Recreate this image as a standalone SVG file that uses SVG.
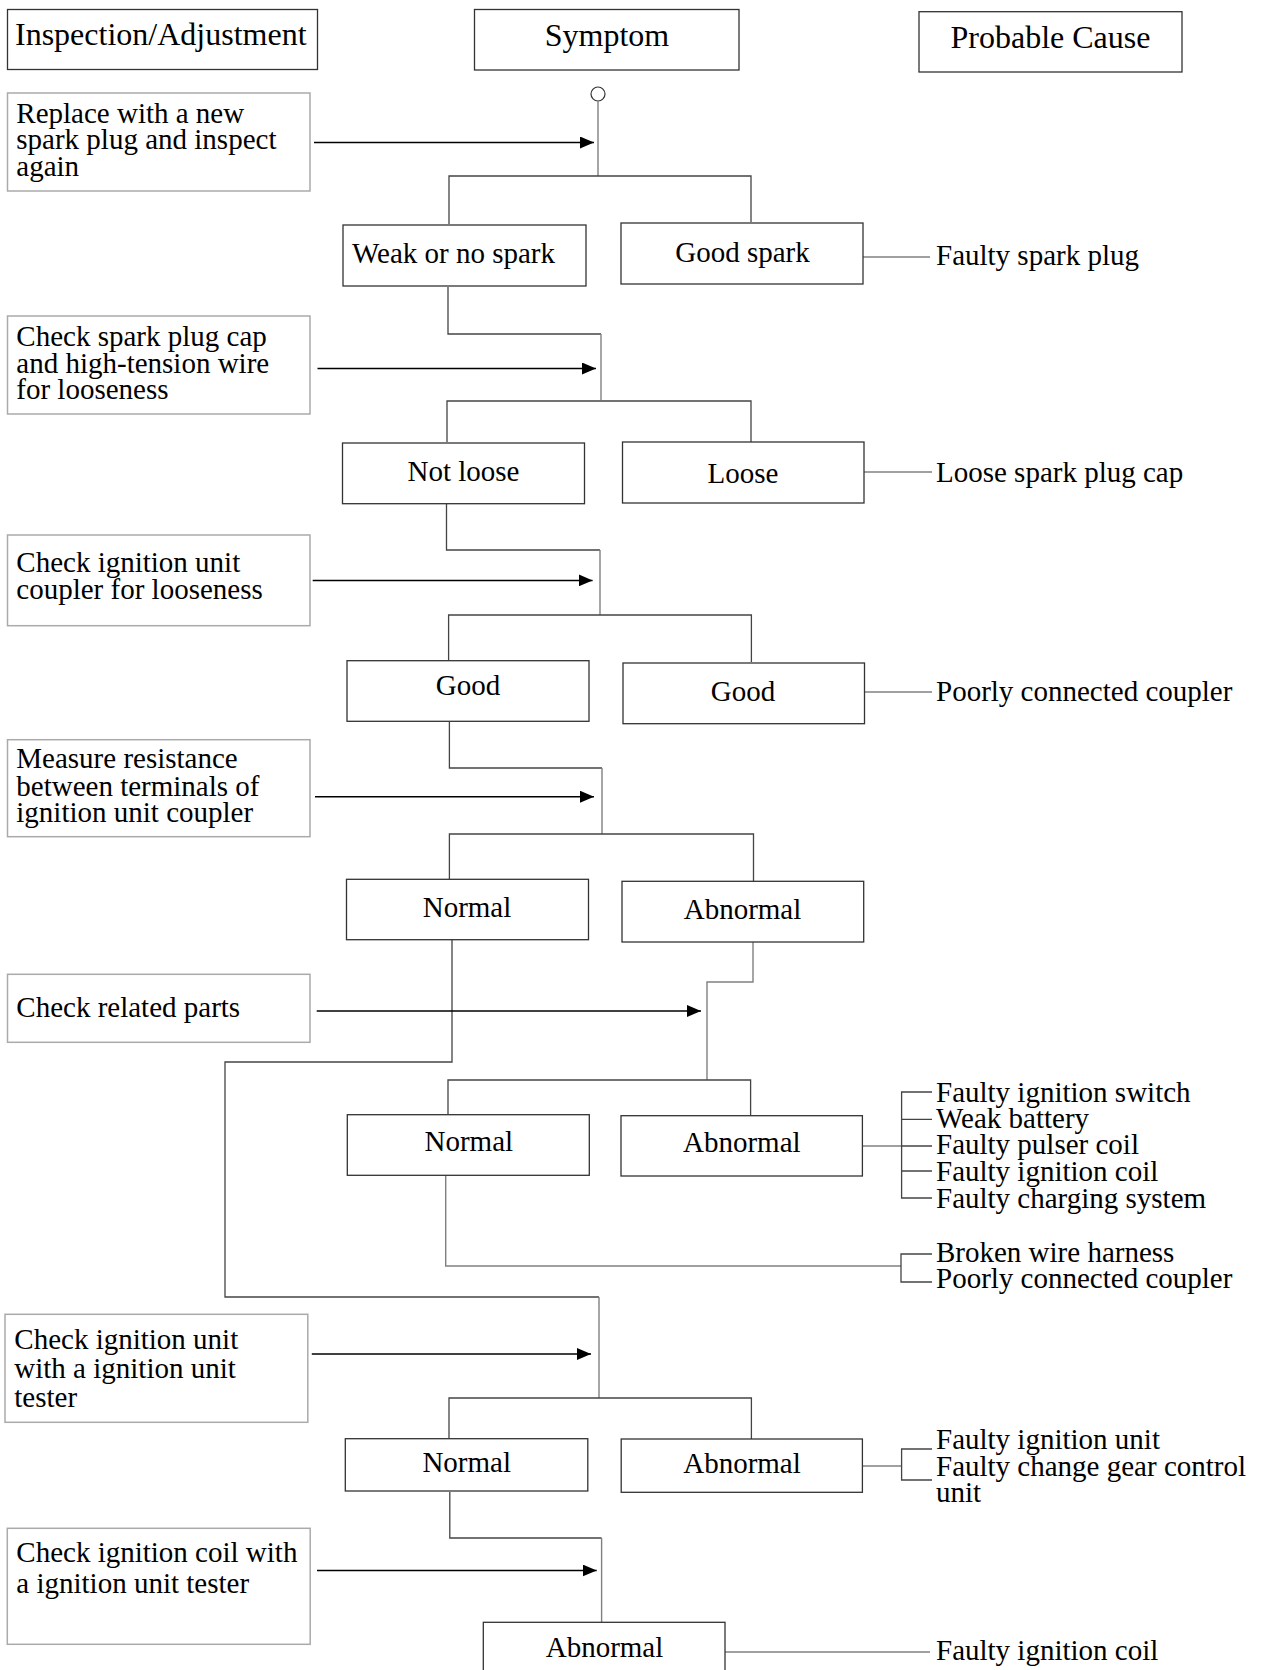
<svg xmlns="http://www.w3.org/2000/svg" width="1262" height="1670" viewBox="0 0 1262 1670">
<defs>
<style>
text{font-family:"Liberation Serif","Times New Roman",serif;font-size:29px;fill:#000}
.hd{font-size:32px}
.c{text-anchor:middle}
.hbox{fill:#fff;stroke:#333;stroke-width:1.3}
.sbox{fill:#fff;stroke:#333;stroke-width:1.3}
.ibox{fill:#fff;stroke:#aaa;stroke-width:1.5}
.ln{fill:none;stroke:#444;stroke-width:1.3}
.gl{fill:none;stroke:#808080;stroke-width:1.4}
.ar{fill:none;stroke:#000;stroke-width:1.5}
</style>
<marker id="ah" viewBox="0 0 14 12" refX="14" refY="6" markerWidth="14" markerHeight="12" markerUnits="userSpaceOnUse" orient="auto">
<path d="M0,0 L14,6 L0,12 z" fill="#000"/>
</marker>
</defs>
<rect width="1262" height="1670" fill="#fff"/>

<g id="connectors">
<circle cx="598" cy="94" r="7" fill="#fff" stroke="#333" stroke-width="1.2"/>
<path class="gl" d="M598 101 V176"/>
<path class="ln" d="M449 224 V176 H751 V222"/>
<path class="ln" d="M448 287 V334 H601"/>
<path class="gl" d="M601 334 V400"/>
<path class="ln" d="M447 442 V401 H751 V442"/>
<path class="ln" d="M446.5 504 V550 H600"/>
<path class="gl" d="M600 550 V615"/>
<path class="ln" d="M448.6 660 V615 H751.4 V662"/>
<path class="ln" d="M449.4 722 V768 H602"/>
<path class="gl" d="M602 768 V834"/>
<path class="ln" d="M449.4 879 V834 H753.5 V881"/>
<path class="ln" d="M452 940 V1062 H225 V1297 H599"/>
<path class="gl" d="M599 1297 V1398"/>
<path class="ln" d="M449 1438 V1398 H751.4 V1439"/>
<path class="gl" d="M753 942 V982 H707 V1080"/>
<path class="ln" d="M448 1114 V1080 H750.6 V1115"/>
<path class="gl" d="M862 1146 H901.6"/>
<path class="ln" d="M932 1092 H901.6 V1198 H932 M901.6 1119.3 H932 M901.6 1146 H932 M901.6 1171 H932"/>
<path class="gl" d="M445.7 1176 V1266 H901"/>
<path class="ln" d="M932 1254 H901 V1282 H932"/>
<path class="ln" d="M449.8 1492 V1538 H601.6"/>
<path class="gl" d="M601.6 1538 V1622"/>
<path class="gl" d="M862.4 1466 H901.6"/>
<path class="ln" d="M932 1449 H901.6 V1480 H932"/>
<path class="gl" d="M863 257 H930"/>
<path class="gl" d="M864 472 H932"/>
<path class="gl" d="M864.5 692 H932"/>
<path class="gl" d="M725 1652 H930"/>
<path class="ar" marker-end="url(#ah)" d="M314 142.5 H594"/>
<path class="ar" marker-end="url(#ah)" d="M317.5 368.5 H596"/>
<path class="ar" marker-end="url(#ah)" d="M312.7 580.4 H592.6"/>
<path class="ar" marker-end="url(#ah)" d="M315 796.7 H594"/>
<path class="ar" marker-end="url(#ah)" d="M316.7 1011 H701"/>
<path class="ar" marker-end="url(#ah)" d="M311.8 1354 H591"/>
<path class="ar" marker-end="url(#ah)" d="M317 1570.5 H596.7"/>
</g>

<g id="hdr-inspection"><rect class="hbox" x="7.5" y="9.5" width="310" height="60"/><text class="hd" x="15" y="45">Inspection/Adjustment</text></g>
<g id="hdr-symptom"><rect class="hbox" x="474.5" y="9.5" width="264.5" height="60.5"/><text class="hd c" x="607" y="46">Symptom</text></g>
<g id="hdr-cause"><rect class="hbox" x="919" y="11.7" width="263" height="60.3"/><text class="hd c" x="1050.5" y="48">Probable Cause</text></g>

<g id="i1"><rect class="ibox" x="7.5" y="93" width="302.5" height="98"/><text x="16.3" y="122.5">Replace with a new</text><text x="16.3" y="149">spark plug and inspect</text><text x="16.3" y="175.5">again</text></g>
<g id="i2"><rect class="ibox" x="7.5" y="316" width="302.5" height="98"/><text x="16.3" y="345.5">Check spark plug cap</text><text x="16.3" y="372.5">and high-tension wire</text><text x="16.3" y="399">for looseness</text></g>
<g id="i3"><rect class="ibox" x="7.5" y="535" width="302.5" height="90.7"/><text x="16.3" y="572">Check ignition unit</text><text x="16.3" y="599">coupler for looseness</text></g>
<g id="i4"><rect class="ibox" x="7.5" y="739.7" width="302.5" height="97"/><text x="16.3" y="768">Measure resistance</text><text x="16.3" y="795.7">between terminals of</text><text x="16.3" y="822">ignition unit coupler</text></g>
<g id="i5"><rect class="ibox" x="7.5" y="974.3" width="302.5" height="68"/><text x="16.3" y="1016.7">Check related parts</text></g>
<g id="i6"><rect class="ibox" x="5" y="1314.3" width="302.8" height="108"/><text x="14.3" y="1349.3">Check ignition unit</text><text x="14.3" y="1378.3">with a ignition unit</text><text x="14.3" y="1406.7">tester</text></g>
<g id="i7"><rect class="ibox" x="7.3" y="1528.3" width="302.9" height="116"/><text x="16.3" y="1561.7">Check ignition coil with</text><text x="16.3" y="1593.3">a ignition unit tester</text></g>

<g id="s-weak"><rect class="sbox" x="343" y="225" width="243" height="61"/><text x="352" y="263">Weak or no spark</text></g>
<g id="s-goodspark"><rect class="sbox" x="621" y="223" width="242" height="61"/><text class="c" x="742.5" y="262">Good spark</text></g>
<g id="s-notloose"><rect class="sbox" x="342.5" y="443" width="242" height="60.7"/><text class="c" x="463.5" y="481">Not loose</text></g>
<g id="s-loose"><rect class="sbox" x="622.5" y="442" width="241.5" height="61"/><text class="c" x="743" y="482.7">Loose</text></g>
<g id="s-good1"><rect class="sbox" x="347" y="660.7" width="242" height="60.6"/><text class="c" x="468" y="695">Good</text></g>
<g id="s-good2"><rect class="sbox" x="623" y="663" width="241.5" height="60.7"/><text class="c" x="743" y="701">Good</text></g>
<g id="s-normal1"><rect class="sbox" x="346.5" y="879.3" width="242" height="60.4"/><text class="c" x="467" y="917">Normal</text></g>
<g id="s-abnormal1"><rect class="sbox" x="622" y="881.3" width="241.7" height="60.7"/><text class="c" x="742.5" y="919">Abnormal</text></g>
<g id="s-normal2"><rect class="sbox" x="347.3" y="1114.7" width="242" height="60.6"/><text class="c" x="468.8" y="1151">Normal</text></g>
<g id="s-abnormal2"><rect class="sbox" x="621" y="1115.7" width="241.4" height="60.3"/><text class="c" x="741.8" y="1151.7">Abnormal</text></g>
<g id="s-normal3"><rect class="sbox" x="345.3" y="1438.7" width="242.5" height="52.3"/><text class="c" x="466.7" y="1472.3">Normal</text></g>
<g id="s-abnormal3"><rect class="sbox" x="621.2" y="1439" width="241.2" height="53.3"/><text class="c" x="742" y="1472.7">Abnormal</text></g>
<g id="s-abnormal4"><rect class="sbox" x="483.3" y="1622.3" width="241.7" height="60"/><text class="c" x="604.5" y="1657">Abnormal</text></g>

<g id="causes">
<text x="936" y="265">Faulty spark plug</text>
<text x="936" y="481.7">Loose spark plug cap</text>
<text x="936" y="701">Poorly connected coupler</text>
<text x="936" y="1101.7">Faulty ignition switch</text>
<text x="936" y="1128.3">Weak battery</text>
<text x="936" y="1154.3">Faulty pulser coil</text>
<text x="936" y="1181">Faulty ignition coil</text>
<text x="936" y="1207.7">Faulty charging system</text>
<text x="936" y="1261.7">Broken wire harness</text>
<text x="936" y="1288.3">Poorly connected coupler</text>
<text x="936" y="1449.3">Faulty ignition unit</text>
<text x="936" y="1476">Faulty change gear control</text>
<text x="936" y="1501.7">unit</text>
<text x="936" y="1660">Faulty ignition coil</text>
</g>
</svg>
